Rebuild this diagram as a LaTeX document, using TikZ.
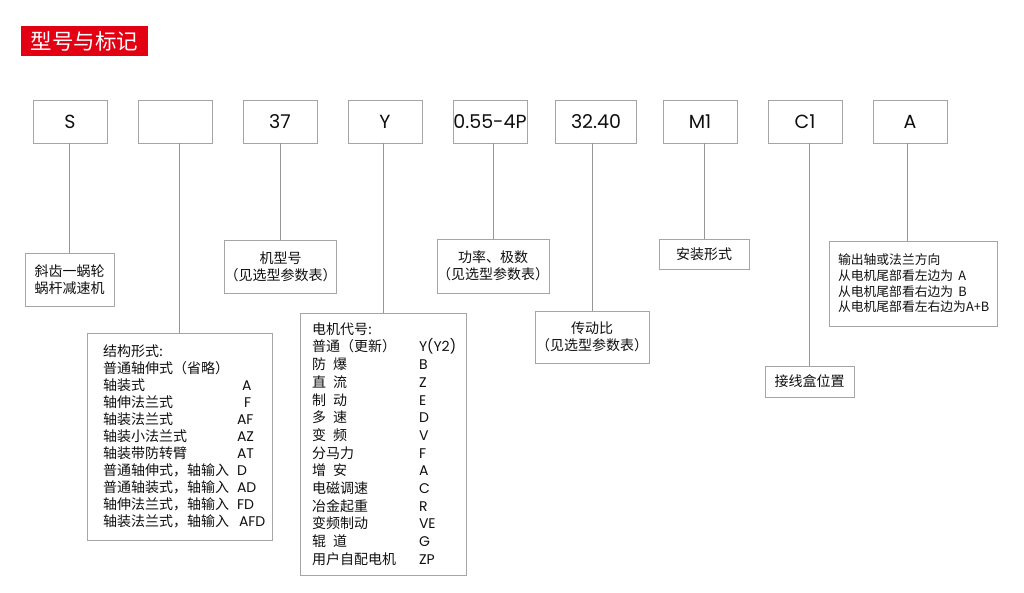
\documentclass[tikz,border=0pt]{standalone}
\usepackage{fontspec}
\usepackage{tikz}
\setmainfont{Poppins}
\newfontfamily\cjk{Noto Sans CJK SC}

\definecolor{markred}{RGB}{226,0,18}
\definecolor{framegray}{RGB}{165,165,165}
\definecolor{linkgray}{RGB}{150,150,150}
\definecolor{inkgray}{RGB}{15,15,15}

\newcommand{\codeline}[3]{\makebox[#1][l]{#2}\mbox{\rmfamily #3}}

\tikzset{
  titlebox/.style={fill=markred, text=white, minimum width=127, minimum height=30,
    inner sep=0, font=\cjk\fontsize{21.5}{21.5}\selectfont},
  codebox/.style={draw=framegray, line width=0.8pt, minimum width=74, minimum height=43,
    inner sep=0, text=inkgray, font=\fontsize{19}{19}\selectfont},
  notebox/.style={draw=framegray, line width=0.8pt, inner sep=0, align=center,
    text=inkgray, font=\cjk\fontsize{14}{17}\selectfont},
  listbox/.style={notebox, align=left},
  link/.style={draw=linkgray, line width=0.8pt}
}

\begin{document}
\begin{tikzpicture}[x=1pt,y=-1pt]
  \useasboundingbox (0,0) rectangle (1024,593);

  \node[titlebox] (title) at (84.5,41) {型号与标记};

  \node[codebox] (s) at (70,121.5) {S};
  \node[codebox] (blank) at (175,121.5) {};
  \node[codebox] (size) at (280,121.5) {37};
  \node[codebox] (motor) at (385,121.5) {Y};
  \node[codebox] (power) at (490,121.5) {\makebox[0pt]{0.55-4P}};
  \node[codebox, minimum width=81] (ratio) at (596,121.5) {32.40};
  \node[codebox] (mount) at (700,121.5) {M1};
  \node[codebox] (tbox) at (805,121.5) {C1};
  \node[codebox] (side) at (910,121.5) {A};

  \node[notebox, minimum width=89, minimum height=53] (worm) at (69.5,279.5)
    {斜齿一蜗轮\\蜗杆减速机};
  \node[listbox, text width=153, inner xsep=16, minimum height=207] (form) at (179.5,436.5)
    {结构形式:\\
     普通轴伸式（省略）\\
     \codeline{134pt}{轴装式}{\hspace{5pt}A}\\
     \codeline{134pt}{轴伸法兰式}{\hspace{7pt}F}\\
     \codeline{134pt}{轴装法兰式}{AF}\\
     \codeline{134pt}{轴装小法兰式}{AZ}\\
     \codeline{134pt}{轴装带防转臂}{AT}\\
     \codeline{134pt}{普通轴伸式，轴输入}{D}\\
     \codeline{134pt}{普通轴装式，轴输入}{AD}\\
     \codeline{134pt}{轴伸法兰式，轴输入}{FD}\\
     \codeline{134pt}{轴装法兰式，轴输入}{\hspace{2pt}AFD}};
  \node[notebox, minimum width=105, minimum height=53] (sizenote) at (280.5,266.5)
    {机型号\\（见选型参数表）};
  \node[listbox, text width=142, inner xsep=12, minimum height=262,
    font=\cjk\fontsize{14}{17.7}\selectfont] (motornote) at (383,444)
    {电机代号:\\
     \codeline{107pt}{普通（更新）}{Y(Y2)}\\
     \codeline{107pt}{防\hspace{0.5em}爆}{B}\\
     \codeline{107pt}{直\hspace{0.5em}流}{Z}\\
     \codeline{107pt}{制\hspace{0.5em}动}{E}\\
     \codeline{107pt}{多\hspace{0.5em}速}{D}\\
     \codeline{107pt}{变\hspace{0.5em}频}{V}\\
     \codeline{107pt}{分马力}{F}\\
     \codeline{107pt}{增\hspace{0.5em}安}{A}\\
     \codeline{107pt}{电磁调速}{C}\\
     \codeline{107pt}{冶金起重}{R}\\
     \codeline{107pt}{变频制动}{VE}\\
     \codeline{107pt}{辊\hspace{0.5em}道}{G}\\
     \codeline{107pt}{用户自配电机}{ZP}};
  \node[notebox, minimum width=112, minimum height=54] (powernote) at (493,266)
    {功率、极数\\（见选型参数表）};
  \node[notebox, minimum width=114, minimum height=52] (rationote) at (592,337)
    {传动比\\（见选型参数表）};
  \node[notebox, minimum width=90, minimum height=30] (mountnote) at (704,254)
    {安装形式};
  \node[notebox, minimum width=89, minimum height=31] (tboxnote) at (809.5,381.5)
    {接线盒位置};
  \node[listbox, text width=150, inner xsep=9, minimum height=85,
    font=\cjk\fontsize{12.8}{15.7}\selectfont] (sidenote) at (913,283.5)
    {输出轴或法兰方向\\
     从电机尾部看左边为\hspace{0.4em}A\\
     从电机尾部看右边为\hspace{0.4em}B\\
     从电机尾部看左右边为A+B};

  \draw[link] (worm.north |- s.south) -- (worm.north);
  \draw[link] (form.north |- blank.south) -- (form.north);
  \draw[link] (sizenote.north |- size.south) -- (sizenote.north);
  \draw[link] (motornote.north |- motor.south) -- (motornote.north);
  \draw[link] (powernote.north |- power.south) -- (powernote.north);
  \draw[link] (rationote.north |- ratio.south) -- (rationote.north);
  \draw[link] (mountnote.north |- mount.south) -- (mountnote.north);
  \draw[link] (tboxnote.north |- tbox.south) -- (tboxnote.north);
  \draw[link] ([xshift=-3pt]side.south) -- ([xshift=-3pt]side.south |- sidenote.north);
\end{tikzpicture}
\end{document}
